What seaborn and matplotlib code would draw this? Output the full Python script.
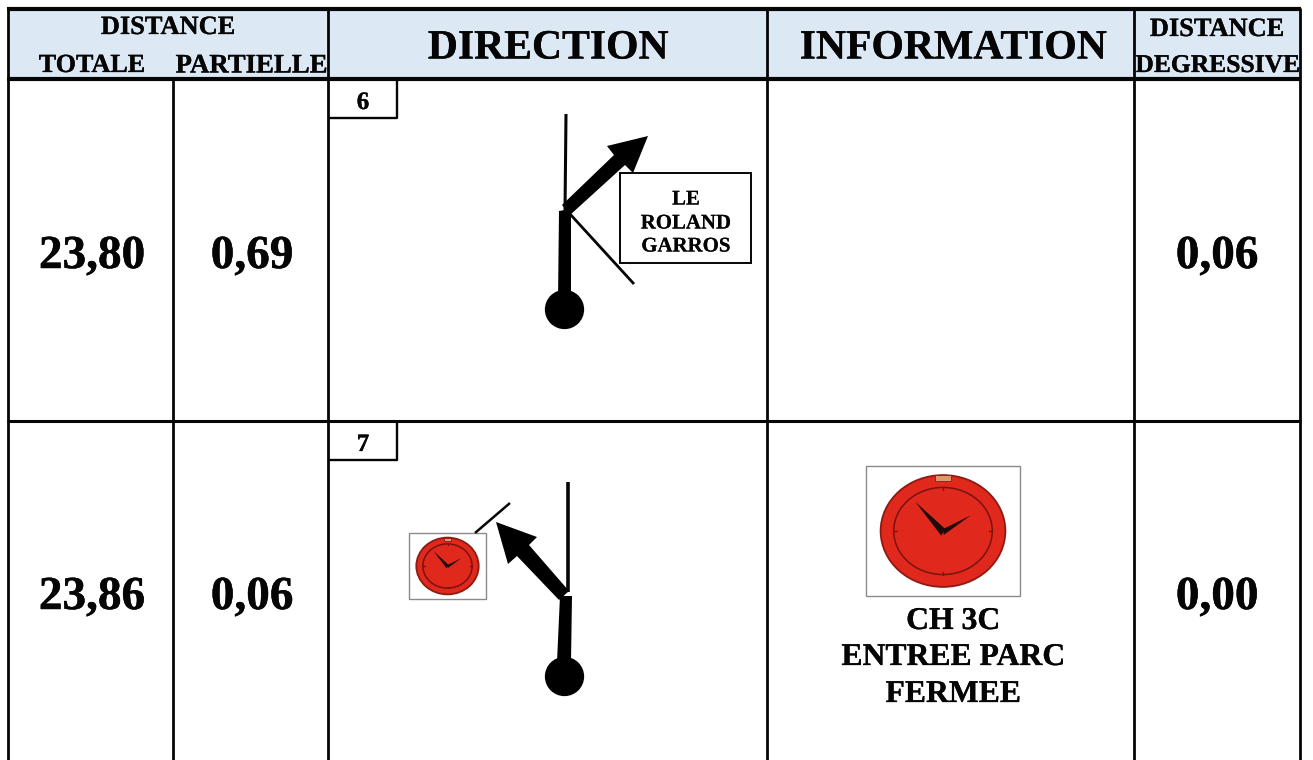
import matplotlib
matplotlib.use("Agg")
import matplotlib.pyplot as plt
import matplotlib.patheffects as pe
from matplotlib.patches import Ellipse, Polygon, Rectangle
import seaborn as sns

# ---- chart content ----
total_km = ["23,80", "23,86"]
partial_km = ["0,69", "0,06"]
remaining_km = ["0,06", "0,00"]
step_numbers = ["6", "7"]
sign_label = ["LE", "ROLAND", "GARROS"]
info_label = ["CH 3C", "ENTREE PARC", "FERMEE"]

sns.set_theme(style="white")
plt.rcParams["font.family"] = ["Liberation Serif", "DejaVu Serif"]
plt.rcParams["font.weight"] = "bold"

fig = plt.figure(figsize=(13.13, 7.6), dpi=100, facecolor="white")
ax = fig.add_axes([0, 0, 1, 1])
ax.set_axis_off()

BLK = "#050505"


def txt(x, y, s, size, heavy=0.2):
    t = ax.text(x, y, s, fontsize=size, fontweight="bold", color=BLK,
                ha="center", va="center_baseline", zorder=6)
    t.set_path_effects([pe.withStroke(linewidth=heavy, foreground=BLK)])


def rule(xs, ys, w=2.2, z=5):
    ax.plot(xs, ys, color=BLK, lw=w, solid_capstyle="butt", zorder=z)


# header band
ax.add_patch(Rectangle((8, 9), 1292, 70, fc="#DCE9F5", ec="none", zorder=0))

# table frame
rule([7, 1301], [9, 9], 3)
rule([7, 1301], [79, 79], 3)
rule([7, 1301], [421, 421], 2.2)
rule([7.5, 7.5], [8, 760], 2)
rule([1300, 1300], [8, 760], 2)
for cx, top in [(173, 79), (328, 9), (767, 9), (1134, 9)]:
    rule([cx, cx], [top, 760], 2)

# header texts
txt(168, 25, "DISTANCE", 19)
txt(92, 63, "TOTALE", 18.8)
txt(251.5, 63, "PARTIELLE", 19.3)
txt(548, 44, "DIRECTION", 30)
txt(953, 44, "INFORMATION", 30)
txt(1217, 27, "DISTANCE", 19)
txt(1217.5, 63, "DEGRESSIVE", 18.4)

# rows
row_mid = [252, 593]
tab_top = [79, 421]
for i in range(2):
    txt(92, row_mid[i], total_km[i], 34, 0.35)
    txt(252, row_mid[i], partial_km[i], 34, 0.35)
    txt(1217, row_mid[i], remaining_km[i], 34, 0.35)
    rule([328, 397, 397], [tab_top[i] + 39, tab_top[i] + 39, tab_top[i]], 1.7)
    txt(363, tab_top[i] + 21, step_numbers[i], 18)

# junction balls
sns.scatterplot(x=[564, 564], y=[309, 676], s=800, color="black",
                linewidth=0, legend=False, ax=ax, zorder=4)

# --- junction 6 ---
rule([566, 565], [114, 212], 2.2)
rule([570, 634], [214, 284], 2)
ax.add_patch(Polygon([[559, 211], [571, 209], [571, 300], [558, 300]], fc="black", ec="none", zorder=4))
ax.add_patch(Polygon([[562, 205], [614, 155], [607, 146], [648, 136], [633, 173], [625, 165], [570, 215]],
                     fc="black", ec="none", zorder=4))
ax.add_patch(Rectangle((620, 173), 131, 90, fc="white", ec=BLK, lw=1.4, zorder=5))
for lbl, yy in zip(sign_label, [197, 221, 244]):
    txt(686, yy, lbl, 15, 0.1)

# --- junction 7 ---
rule([568, 568], [482, 592], 2.6)
rule([475, 510], [533, 503], 1.8)
ax.add_patch(Polygon([[560, 596], [572, 596], [571, 662], [557, 662]], fc="black", ec="none", zorder=4))
ax.add_patch(Polygon([[569, 591], [529, 545], [537, 537], [496, 522], [508, 564], [517, 556], [559, 600]],
                     fc="black", ec="none", zorder=4))


def clock(x0, y0, w, h):
    ax.add_patch(Rectangle((x0, y0), w, h, fc="white", ec="#8a8a8a", lw=1, zorder=2))
    cx, cy = x0 + 0.5 * w, y0 + 0.5 * h
    ax.add_patch(Ellipse((cx, cy), 0.81 * w, 0.86 * h, fc="#E0281C", ec="#8E1A14", lw=1.3, zorder=3))
    ax.add_patch(Ellipse((cx, cy), 0.64 * w, 0.67 * h, fc="none", ec="#7A120E", lw=1.1, zorder=3))
    ax.add_patch(Rectangle((cx - 0.05 * w, y0 + 0.07 * h), 0.1 * w, 0.045 * h, fc="#D99A6C", ec="#8E1A14", lw=0.6, zorder=4))
    for dx, dy in [(0, -0.335), (0, 0.335), (-0.32, 0), (0.32, 0)]:
        ax.plot([cx + dx * w * 0.93, cx + dx * w], [cy + dy * h * 0.93, cy + dy * h],
                color="#7A120E", lw=1, zorder=4)
    ax.add_patch(Polygon([[cx - 0.18 * w, cy - 0.225 * h], [cx + 0.015 * w, cy - 0.015 * h], [cx - 0.012 * w, cy + 0.035 * h]],
                         fc="#1c0b0a", ec="none", zorder=5))
    ax.add_patch(Polygon([[cx + 0.18 * w, cy - 0.12 * h], [cx + 0.0 * w, cy - 0.015 * h], [cx + 0.005 * w, cy + 0.03 * h]],
                         fc="#1c0b0a", ec="none", zorder=5))


clock(409, 533, 77, 66)
clock(866, 466, 154, 130)

for lbl, yy in zip(info_label, [618, 654, 691]):
    txt(953, yy, lbl, 22.8)

ax.set_xlim(0, 1313)
ax.set_ylim(760, 0)
fig.savefig("out.png", dpi=100, facecolor="white")
